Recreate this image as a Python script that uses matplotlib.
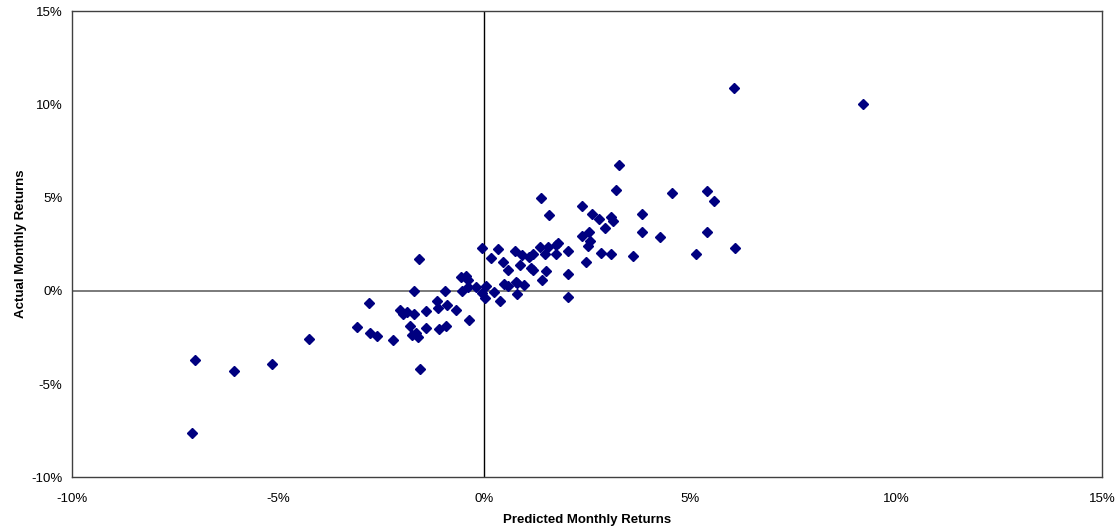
import numpy as np
import matplotlib
matplotlib.use("Agg")
import matplotlib.pyplot as plt
from matplotlib.ticker import FuncFormatter

# predicted vs actual monthly returns, in percent
predicted = [
    -1.58, -0.57, -0.43, -0.40, -0.40, -0.53, -0.19, -1.70, -0.95, -2.79,
    -2.05, -1.97, -1.87, -1.71, -1.42, -1.15, -1.11, -0.91, -0.69, -0.36,
    -3.08, -2.76, -2.59, -2.20, -1.80, -1.75, -1.65, -1.60, -1.42, -1.10,
    -0.92, -1.55, -7.01, -6.07, -5.15, -4.25, -7.09, 3.28, 1.38, 3.21,
    4.56, 5.40, 5.58, 1.58, 2.38, 2.63, 2.78, 3.09, 3.14, 3.83,
    3.83, 2.93, 2.54, 2.37, 2.56, 2.52, 4.28, 5.41, 6.09, 5.15,
    3.62, 3.09, 2.84, 2.47, 2.04, 2.03, 2.03, 1.80, 1.75, 1.74,
    1.55, 1.49, 1.35, 1.19, 1.08, 0.91, 0.75, 0.33, -0.06, 0.16,
    0.45, 0.58, 0.87, 1.13, 1.19, 1.51, 1.41, 0.97, 0.77, 0.80,
    0.48, 0.57, 0.79, 0.04, -0.04, 0.02, 0.24, 0.39, 6.07, 9.19,
]
actual = [
    1.72, 0.76, 0.81, 0.58, 0.22, 0.01, 0.19, 0.01, -0.01, -0.67,
    -1.05, -1.23, -1.12, -1.26, -1.07, -0.56, -0.92, -0.78, -1.05, -1.57,
    -1.96, -2.28, -2.42, -2.62, -1.87, -2.35, -2.28, -2.46, -1.99, -2.06,
    -1.89, -4.19, -3.73, -4.32, -3.94, -2.57, -7.64, 6.76, 4.98, 5.39,
    5.24, 5.35, 4.83, 4.05, 4.55, 4.10, 3.83, 3.97, 3.76, 4.10,
    3.15, 3.37, 3.14, 2.94, 2.69, 2.40, 2.87, 3.15, 2.28, 1.96,
    1.85, 1.97, 2.03, 1.54, 2.13, 0.88, -0.33, 2.58, 2.44, 1.97,
    2.35, 1.96, 2.36, 1.96, 1.80, 1.94, 2.13, 2.24, 2.31, 1.77,
    1.53, 1.12, 1.38, 1.22, 1.12, 1.08, 0.56, 0.33, 0.49, 0.40,
    0.36, 0.26, -0.17, 0.26, -0.13, -0.37, -0.08, -0.55, 10.89, 10.00,
]
x_ticks = [-10, -5, 0, 5, 10, 15]
y_ticks = [-10, -5, 0, 5, 10, 15]

plt.rcParams["font.family"] = ["Liberation Sans", "DejaVu Sans"]

fig = plt.figure(figsize=(11.17, 5.27), dpi=100)
ax = fig.add_axes([0.0645, 0.0943, 0.9221, 0.8847])

ax.axhline(0, color="#707070", lw=1.3, zorder=1)
ax.axvline(0, color="black", lw=1.0, zorder=1)
ax.plot(predicted, actual, linestyle="none", marker="D", markersize=5.2,
        color="#000080", markeredgecolor="#000080", zorder=3)

ax.set_xlim(-10, 15)
ax.set_ylim(-10, 15)
ax.set_xticks(x_ticks)
ax.set_yticks(y_ticks)
pct = FuncFormatter(lambda v, p: "{:.0f}%".format(v))
ax.xaxis.set_major_formatter(pct)
ax.yaxis.set_major_formatter(pct)
ax.tick_params(length=0, labelsize=9.5, colors="black")
ax.tick_params(axis="x", pad=11)
ax.tick_params(axis="y", pad=7)

for s in ax.spines.values():
    s.set_color("#404040")
    s.set_linewidth(1.0)

ax.set_xlabel("Predicted Monthly Returns", fontsize=9.5, fontweight="bold", labelpad=7)
ax.set_ylabel("Actual Monthly Returns", fontsize=9.5, fontweight="bold", labelpad=3)

fig.savefig("out.png", dpi=100, facecolor="white")
